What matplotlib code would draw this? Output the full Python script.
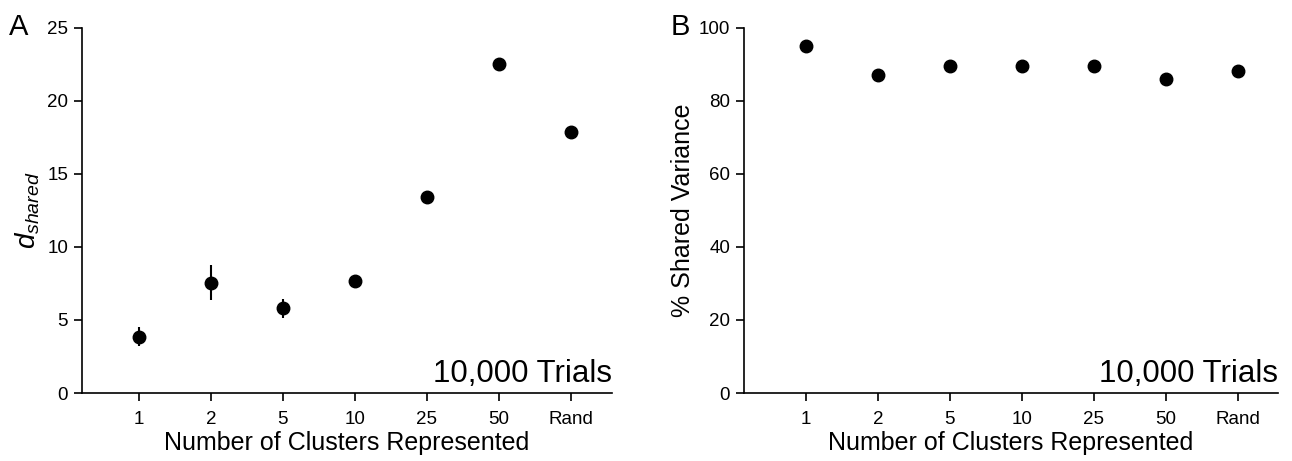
import numpy as np
import matplotlib
matplotlib.use("Agg")
import matplotlib.pyplot as plt

plt.rcParams['font.family'] = ['Liberation Sans', 'DejaVu Sans']
plt.rcParams['mathtext.fontset'] = 'custom'
plt.rcParams['mathtext.it'] = 'Liberation Sans:italic'
plt.rcParams['mathtext.rm'] = 'Liberation Sans'

clusters = ["1", "2", "5", "10", "25", "50", "Rand"]
d_shared = [3.85, 7.55, 5.8, 7.7, 13.4, 22.5, 17.9]
d_err = [0.65, 1.2, 0.65, 0.0, 0.0, 0.0, 0.0]
pct_shared = [95.2, 87.1, 89.7, 89.7, 89.5, 86.1, 88.1]

x = np.arange(1, len(clusters) + 1)

fig = plt.figure(figsize=(12.92, 4.61), dpi=100)
axA = fig.add_axes([0.0635, 0.1475, 0.41, 0.7918])
axB = fig.add_axes([0.5759, 0.1475, 0.4133, 0.7918])

def style(ax, ymax, yticks):
	for s in ["top", "right"]:
		ax.spines[s].set_visible(False)
	for s in ["left", "bottom"]:
		ax.spines[s].set_linewidth(1.2)
	ax.set_ylim(0, ymax)
	ax.set_yticks(yticks)
	ax.set_xticks(x)
	ax.set_xticklabels(clusters)
	ax.tick_params(direction="out", length=6, width=1.2, labelsize=13.5, pad=7)
	ax.tick_params(axis="y", pad=4)
	ax.set_xlabel("Number of Clusters Represented", fontsize=18, labelpad=2)
	ax.text(1.0, 0.01, "10,000 Trials", transform=ax.transAxes,
		ha="right", va="bottom", fontsize=22.5)

axA.errorbar(x, d_shared, yerr=d_err, fmt="o", color="black", ms=9,
	elinewidth=1.5, capsize=0)
axA.set_xlim(0.21, 7.57)
style(axA, 25, [0, 5, 10, 15, 20, 25])
axA.set_ylabel(r"$d_{shared}$", fontsize=20, labelpad=4)

axB.plot(x, pct_shared, "o", color="black", ms=9)
axB.set_xlim(0.14, 7.56)
style(axB, 100, [0, 20, 40, 60, 80, 100])
axB.set_ylabel("% Shared Variance", fontsize=18, labelpad=3)

fig.text(0.007, 0.925, "A", fontsize=21)
fig.text(0.519, 0.925, "B", fontsize=21)

fig.savefig("out.png", dpi=100)
